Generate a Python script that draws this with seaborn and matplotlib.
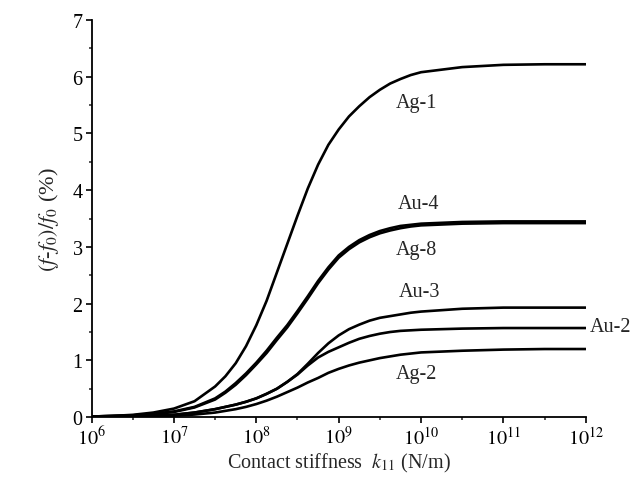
import numpy as np
import pandas as pd
import matplotlib
matplotlib.use("Agg")
import matplotlib.pyplot as plt
import matplotlib.ticker as mticker
import seaborn as sns

# ---- data ----
log_k = [6, 6.25, 6.5, 6.75, 7, 7.25, 7.5, 7.625, 7.75, 7.875, 8, 8.125, 8.25,
         8.375, 8.5, 8.625, 8.75, 8.875, 9, 9.125, 9.25, 9.375, 9.5, 9.625,
         9.75, 9.875, 10, 10.5, 11, 11.5, 12]
ag1 = [0.01, 0.02, 0.04, 0.08, 0.15, 0.28, 0.54, 0.72, 0.95, 1.25, 1.62, 2.05,
       2.55, 3.05, 3.55, 4.03, 4.45, 4.80, 5.07, 5.30, 5.48, 5.64, 5.77, 5.88,
       5.96, 6.03, 6.08, 6.17, 6.21, 6.22, 6.22]
au4 = [0.01, 0.02, 0.03, 0.06, 0.10, 0.18, 0.33, 0.45, 0.60, 0.77, 0.96, 1.17,
       1.40, 1.62, 1.87, 2.13, 2.40, 2.64, 2.85, 3.00, 3.12, 3.21, 3.28, 3.33,
       3.37, 3.39, 3.41, 3.44, 3.45, 3.45, 3.45]
ag8 = [0.01, 0.02, 0.03, 0.05, 0.09, 0.17, 0.31, 0.43, 0.57, 0.74, 0.93, 1.13,
       1.36, 1.58, 1.83, 2.09, 2.36, 2.60, 2.81, 2.96, 3.08, 3.17, 3.24, 3.29,
       3.33, 3.36, 3.38, 3.41, 3.42, 3.42, 3.42]
au3 = [0.005, 0.01, 0.015, 0.025, 0.04, 0.08, 0.14, 0.18, 0.22, 0.27, 0.33, 0.41,
       0.50, 0.62, 0.76, 0.94, 1.13, 1.30, 1.44, 1.55, 1.63, 1.70, 1.75, 1.78,
       1.81, 1.84, 1.86, 1.91, 1.93, 1.93, 1.93]
au2 = [0.005, 0.01, 0.015, 0.025, 0.04, 0.08, 0.14, 0.18, 0.22, 0.27, 0.33, 0.41,
       0.50, 0.62, 0.75, 0.91, 1.05, 1.15, 1.23, 1.31, 1.38, 1.43, 1.47, 1.50,
       1.52, 1.53, 1.54, 1.56, 1.57, 1.57, 1.57]
ag2 = [0.003, 0.005, 0.01, 0.015, 0.025, 0.045, 0.08, 0.11, 0.14, 0.18, 0.23, 0.29,
       0.36, 0.44, 0.52, 0.61, 0.69, 0.78, 0.85, 0.91, 0.96, 1.00, 1.04, 1.07,
       1.10, 1.12, 1.14, 1.17, 1.19, 1.20, 1.20]

series_names = ["Ag-1", "Au-4", "Ag-8", "Au-3", "Au-2", "Ag-2"]
series_vals = [ag1, au4, ag8, au3, au2, ag2]

# label anchor positions (log10 k, value)
label_pos = {
    "Ag-1": (9.94, 5.54, "center"),
    "Au-4": (9.97, 3.76, "center"),
    "Ag-8": (9.95, 2.95, "center"),
    "Au-3": (9.98, 2.21, "center"),
    "Au-2": (12.05, 1.59, "left"),
    "Ag-2": (9.94, 0.76, "center"),
}

rows = []
for name, vals in zip(series_names, series_vals):
    for lk, v in zip(log_k, vals):
        rows.append({"k": 10.0 ** lk, "val": v, "series": name})
df = pd.DataFrame(rows)

sns.set_style("ticks")
plt.rcParams["font.family"] = ["Liberation Serif", "DejaVu Serif"]
plt.rcParams["mathtext.fontset"] = "stix"

fig = plt.figure(figsize=(6.36, 4.89), dpi=100)
ax = fig.add_axes([0.144, 0.145, 0.777, 0.812])

sns.lineplot(data=df, x="k", y="val", hue="series", hue_order=series_names,
             palette=["black"] * len(series_names), linewidth=1.9,
             legend=False, ax=ax, estimator=None, sort=True)

ax.set_xscale("log")
ax.set_xlim(1e6, 1e12)
ax.set_ylim(0, 7)

ax.xaxis.set_major_locator(mticker.FixedLocator([10.0 ** e for e in range(6, 13)]))
ax.xaxis.set_minor_locator(mticker.FixedLocator([10.0 ** (e + 0.5) for e in range(6, 12)]))
ax.xaxis.set_major_formatter(mticker.FuncFormatter(lambda x, p: r"$10^{%d}$" % round(np.log10(x))))
ax.yaxis.set_major_locator(mticker.MultipleLocator(1))
ax.yaxis.set_minor_locator(mticker.MultipleLocator(0.5))

for s in ["top", "right"]:
    ax.spines[s].set_visible(False)
for s in ["left", "bottom"]:
    ax.spines[s].set_linewidth(1.3)
    ax.spines[s].set_color("black")

ax.tick_params(axis="both", which="major", direction="out", length=4.5, width=1.2,
               labelsize=14.5, colors="black", pad=2)
ax.tick_params(axis="both", which="minor", direction="out", length=2.5, width=1.1)

ax.set_xlabel(r"Contact stiffness  $k_{11}$ (N/m)", fontsize=14.5, labelpad=1)
ax.set_ylabel(r"$(f$-$f_0)/f_0$ (%)", fontsize=16, labelpad=8)

for name in series_names:
    lx, ly, ha = label_pos[name]
    ax.text(10.0 ** lx, ly, name, ha=ha, va="center", fontsize=14.5,
            clip_on=False)

fig.savefig("out.png", dpi=100)
